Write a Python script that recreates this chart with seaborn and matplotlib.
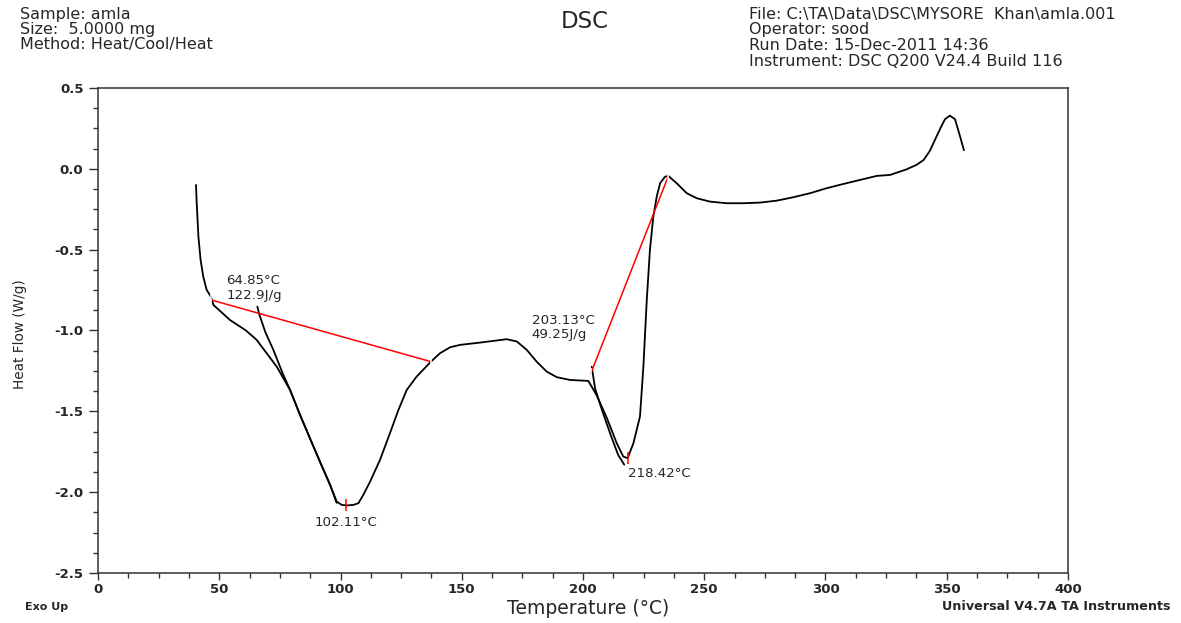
import numpy as np
import pandas as pd
import seaborn as sns
from matplotlib import pyplot as plt
from matplotlib.ticker import MultipleLocator

# main heating curve
main_temp = [40.4, 40.7, 41.4, 42.3, 43.4, 44.8, 46.5, 47.6, 54.4, 61.0, 65.4, 69.5, 73.7,
             79.2, 83.3, 87.4, 91.5, 95.7, 98.4, 100.5, 102.6, 105.3, 107.4, 109.4, 112.2,
             116.3, 120.4, 123.9, 127.3, 131.4, 137.3, 141.0, 145.2, 149.3, 157.5, 164.4,
             168.5, 172.7, 176.8, 180.9, 185.0, 189.2, 194.6, 202.2, 205.6, 209.8, 213.9,
             216.6, 218.4, 220.8, 223.5, 224.9, 226.3, 227.6, 229.0, 230.4, 231.8, 233.8,
             235.2, 238.6, 242.8, 246.9, 252.4, 259.3, 266.1, 273.0, 279.9, 286.7, 293.6,
             300.5, 307.3, 314.2, 321.1, 326.6, 333.5, 337.6, 340.5, 343.0, 345.8, 348.0,
             349.3, 351.3, 353.4, 355.5, 357.1]
main_flow = [-0.100, -0.213, -0.420, -0.564, -0.667, -0.749, -0.790, -0.842, -0.935, -1.000,
             -1.058, -1.140, -1.224, -1.368, -1.522, -1.667, -1.811, -1.955, -2.058, -2.079,
             -2.082, -2.079, -2.068, -2.017, -1.935, -1.800, -1.635, -1.491, -1.368, -1.285,
             -1.193, -1.141, -1.104, -1.089, -1.075, -1.062, -1.054, -1.068, -1.120, -1.193,
             -1.254, -1.289, -1.306, -1.312, -1.400, -1.540, -1.697, -1.780, -1.790, -1.697,
             -1.532, -1.224, -0.811, -0.502, -0.296, -0.172, -0.089, -0.049, -0.044, -0.089,
             -0.151, -0.182, -0.203, -0.213, -0.213, -0.209, -0.197, -0.176, -0.151, -0.120,
             -0.094, -0.069, -0.044, -0.038, -0.003, 0.025, 0.055, 0.110, 0.200, 0.270,
             0.307, 0.329, 0.307, 0.200, 0.115]

# short overlapping segments
seg1_temp = [65.7, 66.5, 69.0, 72.3, 76.0, 79.2, 83.3, 87.4, 91.5, 95.7, 98.4]
seg1_flow = [-0.852, -0.900, -1.010, -1.120, -1.260, -1.368, -1.522, -1.667, -1.811, -1.955, -2.066]
seg2_temp = [203.6, 205.0, 208.0, 211.5, 214.5, 217.0]
seg2_flow = [-1.224, -1.360, -1.500, -1.650, -1.770, -1.830]

# integration baselines and peak markers
base1_temp = [46.6, 137.3]
base1_flow = [-0.811, -1.193]
base2_temp = [203.1, 235.2]
base2_flow = [-1.270, -0.045]
peak_temp = [102.1, 218.4]
peak_flow = [-2.080, -1.790]

sns.set_style("white")
plt.rcParams['font.family'] = ['DejaVu Sans']
plt.rcParams['axes.unicode_minus'] = False

fig = plt.figure(figsize=(11.81, 6.23), dpi=100)
ax = fig.add_axes([0.083, 0.0803, 0.8213, 0.7785])

main_df = pd.DataFrame({'temp': main_temp, 'flow': main_flow})
sns.lineplot(data=main_df, x='temp', y='flow', sort=False, estimator=None,
             color='black', linewidth=1.3, ax=ax)
for t, f in [(seg1_temp, seg1_flow), (seg2_temp, seg2_flow)]:
    sns.lineplot(x=t, y=f, sort=False, estimator=None, color='black', linewidth=1.3, ax=ax)
for t, f in [(base1_temp, base1_flow), (base2_temp, base2_flow)]:
    sns.lineplot(x=t, y=f, sort=False, estimator=None, color='red', linewidth=1.1,
                 marker='|', markersize=8, markeredgewidth=1.1, ax=ax)
ax.plot(peak_temp, peak_flow, linestyle='none', marker='|', markersize=8,
        markeredgewidth=1.1, color='red')

# annotations
ann = dict(fontsize=9.6, va='center')
ax.text(52.9, -0.690, '64.85°C', **ann)
ax.text(52.9, -0.785, '122.9J/g', **ann)
ax.text(89.5, -2.190, '102.11°C', **ann)
ax.text(178.8, -0.937, '203.13°C', **ann)
ax.text(178.8, -1.025, '49.25J/g', **ann)
ax.text(218.7, -1.883, '218.42°C', **ann)

ax.set_xlim(0, 400)
ax.set_ylim(-2.5, 0.5)
ax.xaxis.set_major_locator(MultipleLocator(50))
ax.xaxis.set_minor_locator(MultipleLocator(12.5))
ax.yaxis.set_major_locator(MultipleLocator(0.5))
ax.yaxis.set_minor_locator(MultipleLocator(0.125))
ax.yaxis.set_major_formatter(plt.FormatStrFormatter('%.1f'))
ax.tick_params(axis='both', which='both', direction='out', color='#333333', width=1,
               bottom=True, left=True)
ax.tick_params(axis='x', which='major', length=5, labelsize=9.5, pad=2)
ax.tick_params(axis='x', which='minor', length=3.5)
ax.tick_params(axis='y', which='major', length=6.5, labelsize=9.5, pad=4)
ax.tick_params(axis='y', which='minor', length=3.5)
for lab in ax.get_xticklabels() + ax.get_yticklabels():
    lab.set_fontweight('bold')
for sp in ax.spines.values():
    sp.set_color('#333333')
    sp.set_linewidth(1.1)

ax.set_xlabel('')
ax.set_ylabel('')
fig.text(588 / 1181, 1 - 608 / 623, 'Temperature (°C)', fontsize=13.5, ha='center', va='center')
fig.text(20 / 1181, 1 - 334 / 623, 'Heat Flow (W/g)', fontsize=9.8, rotation=90,
         ha='center', va='center')
fig.text(25 / 1181, 1 - 607 / 623, 'Exo Up', fontsize=8, fontweight='bold', va='center')
fig.text(1171 / 1181, 1 - 607 / 623, 'Universal V4.7A TA Instruments', fontsize=9.2,
         fontweight='bold', ha='right', va='center')

# header
fig.text(585 / 1181, 1 - 22 / 623, 'DSC', fontsize=16.5, ha='center', va='center')
left_lines = ['Sample: amla', 'Size:  5.0000 mg', 'Method: Heat/Cool/Heat']
for i, s in enumerate(left_lines):
    fig.text(20 / 1181, 1 - (14 + 15.5 * i) / 623, s, fontsize=11.5, va='center')
right_lines = ['File: C:\\TA\\Data\\DSC\\MYSORE  Khan\\amla.001', 'Operator: sood',
               'Run Date: 15-Dec-2011 14:36', 'Instrument: DSC Q200 V24.4 Build 116']
for i, s in enumerate(right_lines):
    fig.text(749 / 1181, 1 - (14 + 15.7 * i) / 623, s, fontsize=11.5, va='center')

fig.savefig('out.png', dpi=100)
